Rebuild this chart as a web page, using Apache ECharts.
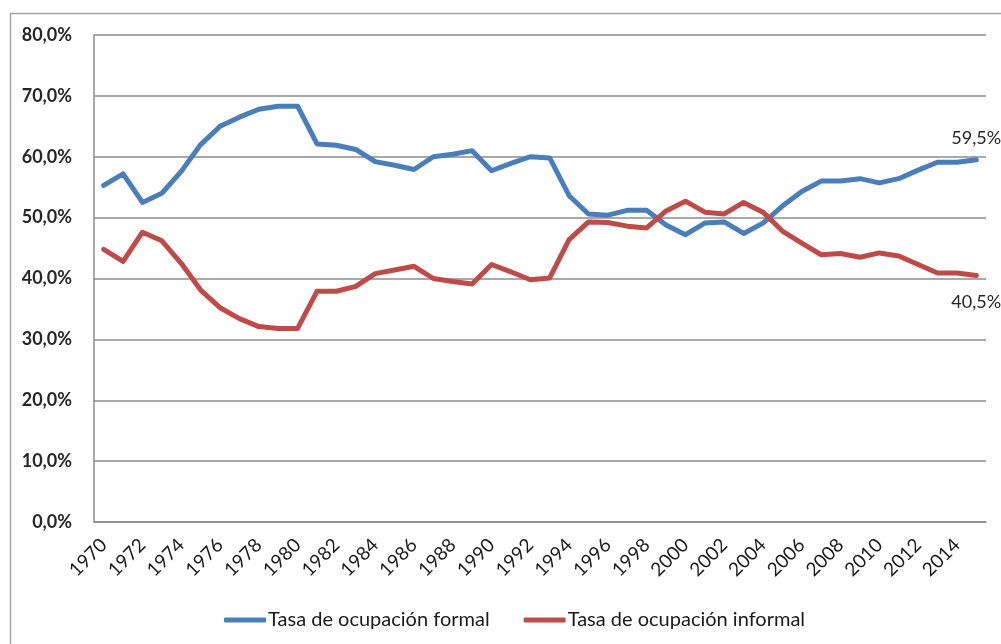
<!DOCTYPE html>
<html>
<head>
<meta charset="utf-8">
<script src="https://cdn.jsdelivr.net/npm/echarts@6/dist/echarts.min.js"></script>
<style>
  html, body { margin: 0; padding: 0; background: #fff; }
  #chart { width: 1001px; height: 644px; }
</style>
</head>
<body>
<div id="chart"></div>
<script>
// years 1970-2015
var years = [];
for (var y = 1970; y <= 2015; y++) years.push(String(y));

var formal = [
	55.3, 57.2, 52.5, 54.0, 57.6, 62.0, 65.0, 66.5, 67.8, 68.3,
	68.3, 62.1, 61.9, 61.2, 59.2, 58.6, 57.9, 60.0, 60.4, 61.0,
	57.7, 58.9, 60.0, 59.8, 53.6, 50.6, 50.4, 51.2, 51.2, 48.8,
	47.2, 49.1, 49.3, 47.4, 49.1, 51.9, 54.3, 56.0, 56.0, 56.4,
	55.7, 56.4, 57.8, 59.1, 59.1, 59.5
];
var informal = [
	44.8, 42.8, 47.6, 46.2, 42.5, 38.1, 35.2, 33.4, 32.1, 31.8,
	31.8, 37.9, 37.9, 38.7, 40.8, 41.4, 42.0, 40.0, 39.5, 39.1,
	42.3, 41.1, 39.8, 40.1, 46.4, 49.3, 49.2, 48.6, 48.3, 51.1,
	52.7, 50.9, 50.6, 52.5, 50.9, 47.8, 45.8, 43.9, 44.1, 43.5,
	44.2, 43.7, 42.3, 40.9, 40.9, 40.5
];

var fontFam = 'Lato, sans-serif';

function pct(v) {
	return v.toFixed(1).replace('.', ',') + '%';
}

var chart = echarts.init(document.getElementById('chart'));

chart.setOption({
	animation: false,
	backgroundColor: '#fff',
	graphic: [{
		type: 'rect',
		shape: { x: 10.5, y: 13.5, width: 1200, height: 1000 },
		style: { fill: 'none', stroke: '#a6a6a6', lineWidth: 1.5 },
		silent: true
	}],
	grid: {
		left: 94,
		top: 35,
		right: 15,
		bottom: 122,
		containLabel: false
	},
	legend: {
		left: 219,
		top: 605,
		icon: 'roundRect',
		itemWidth: 42,
		itemHeight: 5,
		itemGap: 34,
		textStyle: { fontFamily: fontFam, fontSize: 20, color: '#1a1a1a', padding: [0, 0, 0, -3] },
		data: ['Tasa de ocupación formal', 'Tasa de ocupación informal']
	},
	xAxis: {
		type: 'category',
		data: years,
		boundaryGap: true,
		axisLine: { lineStyle: { color: '#8c8c8c', width: 1.5 } },
		axisTick: { show: false },
		axisLabel: {
			interval: 1,
			rotate: 45,
			margin: 20,
			fontFamily: fontFam,
			fontSize: 19,
			color: '#1a1a1a'
		}
	},
	yAxis: {
		type: 'value',
		min: 0,
		max: 80,
		interval: 10,
		axisLine: { show: true, lineStyle: { color: '#8c8c8c', width: 1.5 } },
		axisTick: { show: false },
		splitLine: { lineStyle: { color: '#8c8c8c', width: 1.5 } },
		axisLabel: {
			margin: 22,
			fontFamily: fontFam,
			fontSize: 18,
			fontWeight: 'bold',
			color: '#262626',
			formatter: function(v) { return pct(v); }
		}
	},
	series: [{
		name: 'Tasa de ocupación formal',
		type: 'line',
		data: formal,
		symbol: 'none',
		color: '#4a7ebb',
		lineStyle: { width: 5, color: '#4a7ebb', cap: 'round', join: 'round' },
		endLabel: {
			show: true,
			distance: 0,
			offset: [-25, -22],
			formatter: function(p) { return pct(p.value); },
			fontFamily: fontFam,
			fontSize: 18,
			color: '#262626'
		}
	}, {
		name: 'Tasa de ocupación informal',
		type: 'line',
		data: informal,
		symbol: 'none',
		color: '#be4b48',
		lineStyle: { width: 5, color: '#be4b48', cap: 'round', join: 'round' },
		endLabel: {
			show: true,
			distance: 0,
			offset: [-25, 27],
			formatter: function(p) { return pct(p.value); },
			fontFamily: fontFam,
			fontSize: 18,
			color: '#262626'
		}
	}]
});
</script>
</body>
</html>
